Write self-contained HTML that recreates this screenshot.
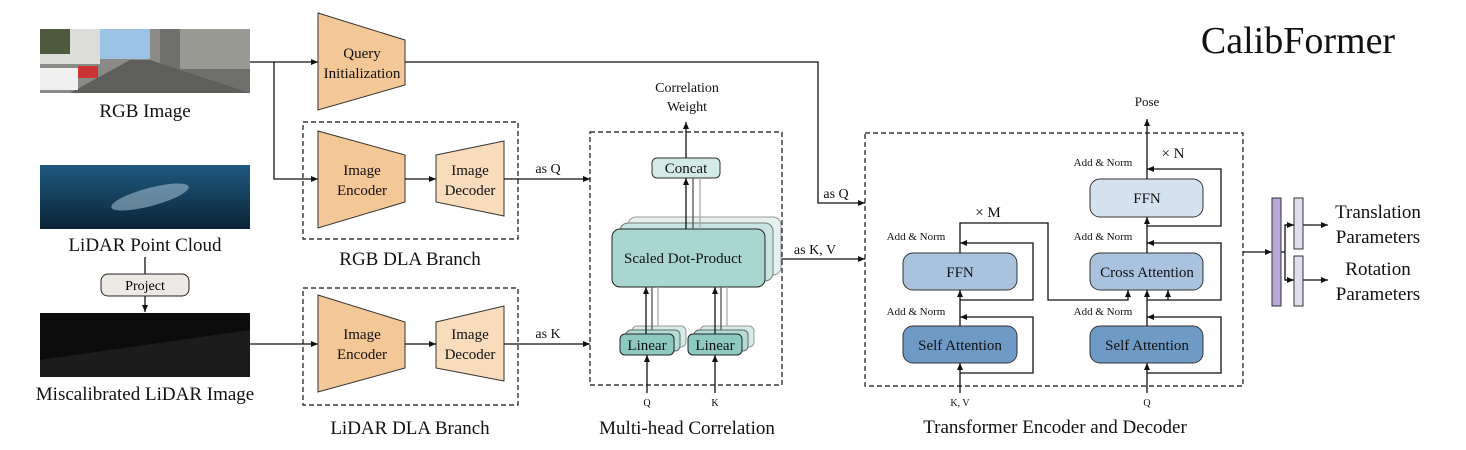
<!DOCTYPE html>
<html><head><meta charset="utf-8"><style>
html,body{margin:0;padding:0;background:#fff;}
svg{display:block;font-family:"Liberation Serif",serif;}
</style></head><body>
<svg width="1466" height="450" viewBox="0 0 1466 450" xmlns="http://www.w3.org/2000/svg">
<defs>
<marker id="a" markerWidth="8" markerHeight="8" refX="7" refY="4" orient="auto" markerUnits="userSpaceOnUse"><path d="M0,1 L7,4 L0,7 z" fill="#111"/></marker>
<linearGradient id="lid" x1="0" y1="0" x2="0" y2="1"><stop offset="0" stop-color="#1f5a80"/><stop offset="1" stop-color="#0b2436"/></linearGradient>
</defs>
<rect width="1466" height="450" fill="#fff"/>

<!-- images -->
<rect x="40" y="29" width="210" height="64" fill="#8a8a86"/>
<rect x="100" y="29" width="50" height="30" fill="#9cc3e6"/>
<rect x="40" y="29" width="60" height="35" fill="#dcdcd8"/>
<rect x="40" y="29" width="30" height="25" fill="#4d5a3c"/>
<rect x="160" y="29" width="90" height="64" fill="#6f6f6c"/>
<rect x="180" y="29" width="70" height="40" fill="#9a9a94"/>
<path d="M70,93 L130,60 L150,60 L250,93z" fill="#5e5e5a"/>
<rect x="40" y="68" width="38" height="22" fill="#f0f0f0"/>
<rect x="78" y="66" width="20" height="12" fill="#c33"/>
<rect x="40" y="165" width="210" height="64" fill="url(#lid)"/>
<ellipse cx="150" cy="197" rx="40" ry="9" fill="#a9c4d6" opacity="0.55" transform="rotate(-15 150 197)"/>
<rect x="40" y="313" width="210" height="64" fill="#0c0c0c"/>
<path d="M40,360 L250,330 L250,377 L40,377z" fill="#1c1c1c"/>

<g font-size="19" text-anchor="middle" fill="#111">
<text x="145" y="117">RGB Image</text>
<text x="145" y="251">LiDAR Point Cloud</text>
<text x="145" y="400">Miscalibrated LiDAR Image</text>
<text x="410" y="265">RGB DLA Branch</text>
<text x="410" y="434">LiDAR DLA Branch</text>
<text x="687" y="434">Multi-head Correlation</text>
<text x="1055" y="433">Transformer Encoder and Decoder</text>
<text x="1378" y="218">Translation</text>
<text x="1378" y="243">Parameters</text>
<text x="1378" y="275">Rotation</text>
<text x="1378" y="300">Parameters</text>
</g>
<text x="1298" y="53" font-size="38" text-anchor="middle" fill="#111">CalibFormer</text>

<!-- project -->
<line x1="145" y1="257" x2="145" y2="274" stroke="#111" stroke-width="1.3"/>
<rect x="101" y="274" width="88" height="22" rx="7" fill="#ece8e4" stroke="#222" stroke-width="1"/>
<text x="145" y="290" font-size="14" text-anchor="middle">Project</text>
<line x1="145" y1="296" x2="145" y2="312" stroke="#111" stroke-width="1.3" marker-end="url(#a)"/>

<!-- trapezoids -->
<g fill="#f4c797" stroke="#333" stroke-width="1">
<path d="M318,13 L405,40 L405,85 L318,110z"/>
<path d="M318,131 L405,155 L405,202 L318,228z"/>
<path d="M436,155 L504,141 L504,216 L436,202z" fill="#f8dcbc"/>
<path d="M318,295 L405,322 L405,368 L318,392z"/>
<path d="M436,322 L504,306 L504,381 L436,368z" fill="#f8dcbc"/>
</g>
<g font-size="15" text-anchor="middle" fill="#111">
<text x="362" y="58">Query</text><text x="362" y="78">Initialization</text>
<text x="362" y="175">Image</text><text x="362" y="195">Encoder</text>
<text x="470" y="175">Image</text><text x="470" y="195">Decoder</text>
<text x="362" y="339">Image</text><text x="362" y="359">Encoder</text>
<text x="470" y="339">Image</text><text x="470" y="359">Decoder</text>
</g>

<!-- dashed boxes -->
<g fill="none" stroke="#111" stroke-width="1.2" stroke-dasharray="5,3">
<rect x="303" y="122" width="215" height="117"/>
<rect x="303" y="288" width="215" height="117"/>
<rect x="590" y="132" width="192" height="253"/>
<rect x="865" y="133" width="378" height="253"/>
</g>

<!-- left connectors -->
<g stroke="#111" stroke-width="1.3" fill="none">
<line x1="250" y1="62" x2="318" y2="62" marker-end="url(#a)"/>
<polyline points="274,62 274,179 318,179" marker-end="url(#a)"/>
<line x1="405" y1="179" x2="436" y2="179" marker-end="url(#a)"/>
<line x1="504" y1="179" x2="590" y2="179" marker-end="url(#a)"/>
<line x1="250" y1="344" x2="318" y2="344" marker-end="url(#a)"/>
<line x1="405" y1="344" x2="436" y2="344" marker-end="url(#a)"/>
<line x1="504" y1="344" x2="590" y2="344" marker-end="url(#a)"/>
<polyline points="405,62 818,62 818,203 865,203" marker-end="url(#a)"/>
<line x1="765" y1="259" x2="865" y2="259" marker-end="url(#a)"/>
</g>
<g font-size="14" text-anchor="middle" fill="#111">
<text x="548" y="173">as Q</text>
<text x="548" y="338">as K</text>
<text x="836" y="198">as Q</text>
<text x="815" y="254">as K, V</text>
<text x="687" y="92">Correlation</text>
<text x="687" y="111">Weight</text>
</g>

<!-- multi-head -->
<g stroke="#333" stroke-width="1">
<rect x="628" y="217" width="153" height="58" rx="8" fill="#e4f1ef" stroke="#999"/>
<rect x="620" y="223" width="153" height="58" rx="8" fill="#c9e5e1" stroke="#777"/>
<rect x="612" y="229" width="153" height="58" rx="8" fill="#a9d6d0" stroke="#222"/>
<rect x="632" y="326" width="54" height="21" rx="5" fill="#d4ebe8" stroke="#999"/>
<rect x="626" y="330" width="54" height="21" rx="5" fill="#b4dcd6" stroke="#666"/>
<rect x="620" y="334" width="54" height="21" rx="5" fill="#8ec9c1" stroke="#222"/>
<rect x="700" y="326" width="54" height="21" rx="5" fill="#d4ebe8" stroke="#999"/>
<rect x="694" y="330" width="54" height="21" rx="5" fill="#b4dcd6" stroke="#666"/>
<rect x="688" y="334" width="54" height="21" rx="5" fill="#8ec9c1" stroke="#222"/>
<rect x="652" y="158" width="68" height="20" rx="5" fill="#d2ebe7" stroke="#333"/>
</g>
<g font-size="15" text-anchor="middle" fill="#111">
<text x="683" y="263">Scaled Dot-Product</text>
<text x="647" y="350">Linear</text>
<text x="715" y="350">Linear</text>
<text x="686" y="173">Concat</text>
</g>
<g stroke-width="1.3" fill="none">
<line x1="686" y1="158" x2="686" y2="122" stroke="#111" marker-end="url(#a)"/>
<line x1="686" y1="229" x2="686" y2="178" stroke="#111" marker-end="url(#a)"/>
<line x1="693" y1="229" x2="693" y2="178" stroke="#555"/>
<line x1="700" y1="229" x2="700" y2="178" stroke="#aaa"/>
<line x1="646" y1="334" x2="646" y2="287" stroke="#111" marker-end="url(#a)"/>
<line x1="652" y1="330" x2="652" y2="287" stroke="#555"/>
<line x1="658" y1="326" x2="658" y2="287" stroke="#aaa"/>
<line x1="715" y1="334" x2="715" y2="287" stroke="#111" marker-end="url(#a)"/>
<line x1="721" y1="330" x2="721" y2="287" stroke="#555"/>
<line x1="727" y1="326" x2="727" y2="287" stroke="#aaa"/>
<line x1="647" y1="393" x2="647" y2="355" stroke="#111" marker-end="url(#a)"/>
<line x1="715" y1="393" x2="715" y2="355" stroke="#111" marker-end="url(#a)"/>
</g>
<text x="647" y="406" font-size="10" text-anchor="middle">Q</text>
<text x="715" y="406" font-size="10" text-anchor="middle">K</text>

<!-- transformer -->
<g stroke="#333" stroke-width="1">
<rect x="903" y="326" width="114" height="37" rx="10" fill="#6f9ac5"/>
<rect x="903" y="253" width="114" height="37" rx="10" fill="#a9c3df"/>
<rect x="1090" y="326" width="113" height="37" rx="10" fill="#6f9ac5"/>
<rect x="1090" y="253" width="113" height="37" rx="10" fill="#a9c3df"/>
<rect x="1090" y="179" width="113" height="38" rx="10" fill="#d4e2f0"/>
</g>
<g font-size="15" text-anchor="middle" fill="#111">
<text x="960" y="350">Self Attention</text>
<text x="960" y="277">FFN</text>
<text x="1147" y="350">Self Attention</text>
<text x="1147" y="277">Cross Attention</text>
<text x="1147" y="203">FFN</text>
<text x="1147" y="106" font-size="13">Pose</text>
<text x="988" y="217">× M</text>
<text x="1173" y="158">× N</text>
</g>
<g font-size="11" text-anchor="middle" fill="#111">
<text x="916" y="240">Add &amp; Norm</text>
<text x="916" y="315">Add &amp; Norm</text>
<text x="1103" y="166">Add &amp; Norm</text>
<text x="1103" y="240">Add &amp; Norm</text>
<text x="1103" y="315">Add &amp; Norm</text>
<text x="960" y="406" font-size="10">K, V</text>
<text x="1147" y="406" font-size="10">Q</text>
</g>
<g stroke="#111" stroke-width="1.3" fill="none">
<line x1="960" y1="393" x2="960" y2="363" marker-end="url(#a)"/>
<polyline points="960,373 1033,373 1033,317 960,317" marker-end="url(#a)"/>
<line x1="960" y1="326" x2="960" y2="290" marker-end="url(#a)"/>
<polyline points="960,300 1033,300 1033,243 960,243" marker-end="url(#a)"/>
<polyline points="960,253 960,223 1048,223 1048,300 1128,300 1128,290" marker-end="url(#a)"/>
<line x1="1147" y1="393" x2="1147" y2="363" marker-end="url(#a)"/>
<polyline points="1147,373 1221,373 1221,317 1147,317" marker-end="url(#a)"/>
<line x1="1147" y1="326" x2="1147" y2="290" marker-end="url(#a)"/>
<polyline points="1147,300 1221,300 1221,243 1147,243" marker-end="url(#a)"/>
<line x1="1168" y1="300" x2="1168" y2="290" marker-end="url(#a)"/>
<line x1="1147" y1="253" x2="1147" y2="217" marker-end="url(#a)"/>
<polyline points="1147,226 1221,226 1221,169 1147,169" marker-end="url(#a)"/>
<line x1="1147" y1="179" x2="1147" y2="119" marker-end="url(#a)"/>
<line x1="1243" y1="252" x2="1272" y2="252" marker-end="url(#a)"/>
<polyline points="1281,252 1285,252"/>
<polyline points="1294,225 1285,225 1285,280 1294,280"/>
<line x1="1285" y1="225" x2="1294" y2="225" marker-end="url(#a)"/>
<line x1="1285" y1="280" x2="1294" y2="280" marker-end="url(#a)"/>
<line x1="1303" y1="225" x2="1328" y2="225" marker-end="url(#a)"/>
<line x1="1303" y1="280" x2="1328" y2="280" marker-end="url(#a)"/>
</g>
<rect x="1272" y="198" width="9" height="108" fill="#b6a9d6" stroke="#333" stroke-width="1"/>
<rect x="1294" y="198" width="9" height="51" fill="#e0deef" stroke="#333" stroke-width="1"/>
<rect x="1294" y="256" width="9" height="50" fill="#e0deef" stroke="#333" stroke-width="1"/>
</svg>
</body></html>
